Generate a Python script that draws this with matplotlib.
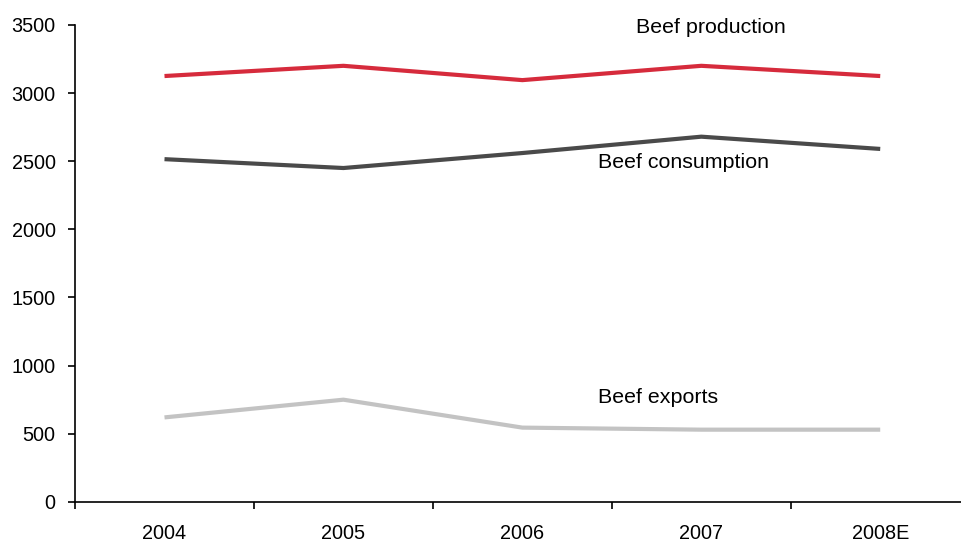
import numpy as np
from matplotlib import pyplot as plt

years = ["2004", "2005", "2006", "2007", "2008E"]
production = [3125, 3200, 3095, 3200, 3125]
consumption = [2515, 2450, 2560, 2680, 2590]
exports = [620, 750, 545, 530, 530]

plt.rcParams['font.family'] = ['Liberation Sans', 'DejaVu Sans']

fig = plt.figure(figsize=(9.62, 5.42), dpi=100)
ax = fig.add_axes([0.078, 0.074, 0.93, 0.880])

x = np.arange(len(years))
ax.plot(x, production, color="#D62B3C", lw=3, solid_capstyle="butt")
ax.plot(x, consumption, color="#4A4A4A", lw=3, solid_capstyle="butt")
ax.plot(x, exports, color="#C3C3C3", lw=3, solid_capstyle="butt")

ax.text(2.635, 3480, "Beef production", fontsize=15.4, va="center")
ax.text(2.425, 2490, "Beef consumption", fontsize=15.4, va="center")
ax.text(2.425, 765, "Beef exports", fontsize=15.4, va="center")

ax.set_xlim(-0.5, len(years) - 0.5)
ax.set_ylim(0, 3500)
ax.set_yticks(range(0, 3501, 500))

# category labels in the middle, tick marks on the boundaries
ax.set_xticks(x)
ax.set_xticklabels(years)
ax.set_xticks(np.arange(-0.5, len(years), 1.0), minor=True)
ax.tick_params(axis="x", which="major", length=0, pad=16, labelsize=14.3)
ax.tick_params(axis="x", which="minor", length=5, width=1.2)
ax.tick_params(axis="y", length=5, width=1.2, pad=9, labelsize=14.3)

ax.spines["top"].set_visible(False)
ax.spines["right"].set_visible(False)
ax.spines["left"].set_linewidth(1.2)
ax.spines["bottom"].set_linewidth(1.2)

fig.savefig("out.png", dpi=100)
